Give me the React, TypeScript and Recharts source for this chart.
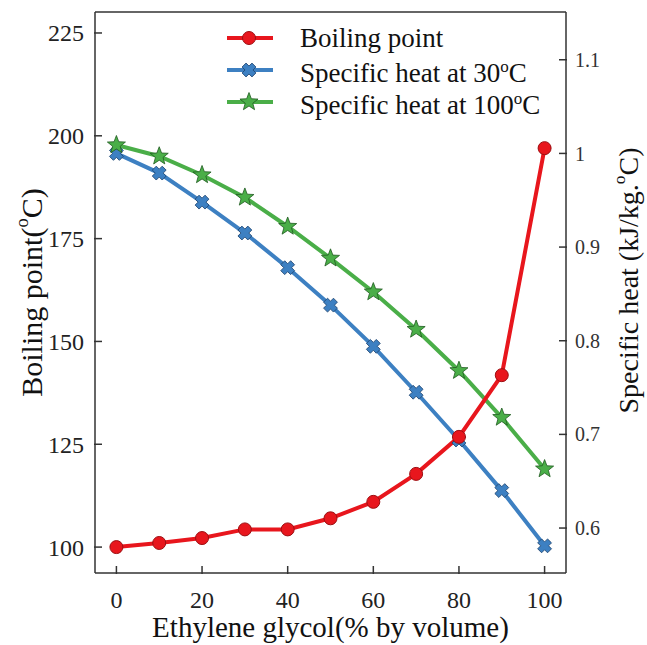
import React from 'react';
import {
  ComposedChart,
  Line,
  XAxis,
  YAxis,
  Legend,
  Label,
} from 'recharts';

// ethylene glycol share (% by volume)
const composition = [0, 10, 20, 30, 40, 50, 60, 70, 80, 90, 100];
// boiling point (°C), left axis
const boilingPoint = [100, 101, 102.2, 104.3, 104.3, 107, 111, 117.8, 126.8, 141.8, 197];
// specific heat (kJ/kg.°C), right axis
const heatAt30 = [1.0, 0.979, 0.948, 0.915, 0.878, 0.838, 0.794, 0.745, 0.694, 0.64, 0.581];
const heatAt100 = [1.009, 0.997, 0.977, 0.953, 0.922, 0.888, 0.852, 0.812, 0.768, 0.718, 0.663];

const xTicks = [0, 20, 40, 60, 80, 100];
const xMinorTicks = [0, 5, 10, 15, 20, 25, 30, 35, 40, 45, 50, 55, 60, 65, 70, 75, 80, 85, 90, 95, 100];
const leftTicks = [100, 125, 150, 175, 200, 225];
const leftMinorTicks = [95, 100, 105, 110, 115, 120, 125, 130, 135, 140, 145, 150, 155, 160, 165, 170, 175, 180, 185, 190, 195, 200, 205, 210, 215, 220, 225, 230];
const rightTicks = [0.6, 0.7, 0.8, 0.9, 1, 1.1];
const rightMinorTicks = [0.6, 0.65, 0.7, 0.75, 0.8, 0.85, 0.9, 0.95, 1, 1.05, 1.1];

const data = composition.map((x, i) => ({
  x,
  boiling: boilingPoint[i],
  heat30: heatAt30[i],
  heat100: heatAt100[i],
}));

const FONT = '"Liberation Serif", "Times New Roman", serif';
const AXIS = '#333';
const RED = '#e8161d';
const BLUE = '#3d80c2';
const GREEN = '#4aae48';
const X_DOMAIN = [-5, 105];
const LEFT_DOMAIN = [93.7, 230.1];
const RIGHT_DOMAIN = [0.552, 1.151];

// 標記點
const CircleMark = ({ cx, cy }: { cx: number; cy: number }) => (
  <circle cx={cx} cy={cy} r={6.5} fill={RED} stroke="#9c0f12" strokeWidth={1} />
);

const CrossMark = ({ cx, cy }: { cx: number; cy: number }) => {
  const a = 7;
  const h = 2.8;
  const pts = [
    [h, h], [a, h], [a, -h], [h, -h], [h, -a], [-h, -a],
    [-h, -h], [-a, -h], [-a, h], [-h, h], [-h, a], [h, a],
  ];
  return (
    <g transform={`translate(${cx},${cy}) rotate(45)`}>
      <polygon
        points={pts.map((p) => p.join(',')).join(' ')}
        fill={BLUE}
        stroke="#1f4470"
        strokeWidth={0.8}
      />
    </g>
  );
};

const StarMark = ({ cx, cy }: { cx: number; cy: number }) => {
  const pts: string[] = [];
  for (let k = 0; k < 10; k++) {
    const r = k % 2 === 0 ? 9.5 : 4;
    const ang = -Math.PI / 2 + (k * Math.PI) / 5;
    pts.push(`${cx + r * Math.cos(ang)},${cy + r * Math.sin(ang)}`);
  }
  return <polygon points={pts.join(' ')} fill={GREEN} stroke="#1f5a1f" strokeWidth={0.8} />;
};

const markers: Record<string, React.FC<{ cx: number; cy: number }>> = {
  boiling: CircleMark,
  heat30: CrossMark,
  heat100: StarMark,
};

const labels: Record<string, React.ReactNode> = {
  boiling: 'Boiling point',
  heat30: (
    <>
      Specific heat at 30<sup style={{ fontSize: 17 }}>o</sup>C
    </>
  ),
  heat100: (
    <>
      Specific heat at 100<sup style={{ fontSize: 17 }}>o</sup>C
    </>
  ),
};

const renderLegend = (props: any) => {
  const { payload = [] } = props;
  const order = ['boiling', 'heat30', 'heat100'];
  const items = [...payload].sort(
    (a: any, b: any) => order.indexOf(a.dataKey) - order.indexOf(b.dataKey),
  );
  return (
    <div style={{ fontFamily: FONT, fontSize: 27, color: '#111', whiteSpace: 'nowrap' }}>
      {items.map((item: any) => {
        const Mark = markers[item.dataKey];
        return (
          <div
            key={item.dataKey}
            style={{ display: 'flex', alignItems: 'center', height: 32 }}
          >
            <svg width={46} height={24} style={{ overflow: 'visible' }}>
              <line x1={0} y1={12} x2={46} y2={12} stroke={item.color} strokeWidth={4} />
              <Mark cx={22} cy={12} />
            </svg>
            <span style={{ marginLeft: 27, lineHeight: '32px' }}>{labels[item.dataKey]}</span>
          </div>
        );
      })}
    </div>
  );
};

const sup = (pre: string, post: string, size: number) => (
  <>
    <tspan>{pre}</tspan>
    <tspan dy={-size * 0.38} fontSize={size * 0.62}>o</tspan>
    <tspan dy={size * 0.38}>{post}</tspan>
  </>
);

const tickStyle = { fontFamily: FONT, fontSize: 24, fill: '#222' };

const App: React.FC = () => {
  return (
    <div>
      <style>{'body{margin:0}'}</style>
      <ComposedChart
        width={647}
        height={645}
        data={data}
        margin={{ top: 10, right: 0, bottom: 0, left: 0 }}
      >
        {/* 主刻度 (outer, labelled) first, then 1px minor axes that draw the frame */}
        <XAxis
          xAxisId="zBottom"
          dataKey="x"
          type="number"
          domain={X_DOMAIN}
          ticks={xTicks}
          tickSize={-8}
          tickMargin={25}
          height={71}
          axisLine={false}
          stroke={AXIS}
          tickLine={{ strokeWidth: 1.5 }}
          tick={tickStyle}
        >
          <Label
            content={({ viewBox }: any) => (
              <text
                x={viewBox.x + viewBox.width / 2}
                y={637}
                textAnchor="middle"
                fontFamily={FONT}
                fontSize={29}
                fill="#111"
              >
                Ethylene glycol(% by volume)
              </text>
            )}
          />
        </XAxis>
        <XAxis
          xAxisId="aBottom"
          dataKey="x"
          type="number"
          domain={X_DOMAIN}
          ticks={xMinorTicks}
          tick={false}
          tickSize={-4}
          height={1}
          stroke={AXIS}
          strokeWidth={1.5}
        />
        <XAxis
          xAxisId="zTop"
          dataKey="x"
          type="number"
          orientation="top"
          domain={X_DOMAIN}
          ticks={xTicks}
          tick={false}
          tickSize={-8}
          height={1}
          axisLine={false}
          stroke={AXIS}
          tickLine={{ strokeWidth: 1.5 }}
        />
        <XAxis
          xAxisId="aTop"
          dataKey="x"
          type="number"
          orientation="top"
          domain={X_DOMAIN}
          ticks={xMinorTicks}
          tick={false}
          tickSize={-4}
          height={1}
          stroke={AXIS}
          strokeWidth={1.5}
        />
        <YAxis
          yAxisId="zLeft"
          type="number"
          domain={LEFT_DOMAIN}
          ticks={leftTicks}
          tickSize={-8}
          tickMargin={18}
          width={94}
          axisLine={false}
          stroke={AXIS}
          tickLine={{ strokeWidth: 1.5 }}
          tick={tickStyle}
        >
          <Label
            content={({ viewBox }: any) => {
              const cy = viewBox.y + viewBox.height / 2;
              return (
                <text
                  x={35}
                  y={cy}
                  transform={`rotate(-90 35 ${cy})`}
                  textAnchor="middle"
                  dominantBaseline="middle"
                  fontFamily={FONT}
                  fontSize={30}
                  fill="#111"
                >
                  {sup('Boiling point(', 'C)', 30)}
                </text>
              );
            }}
          />
        </YAxis>
        <YAxis
          yAxisId="aLeft"
          type="number"
          domain={LEFT_DOMAIN}
          ticks={leftMinorTicks}
          tick={false}
          tickSize={-4}
          width={1}
          stroke={AXIS}
          strokeWidth={1.5}
        />
        <YAxis
          yAxisId="zRight"
          orientation="right"
          type="number"
          domain={RIGHT_DOMAIN}
          ticks={rightTicks}
          tickSize={-8}
          tickMargin={16}
          width={80}
          axisLine={false}
          stroke={AXIS}
          tickLine={{ strokeWidth: 1.5 }}
          tick={{ fontFamily: FONT, fontSize: 20, fill: '#333' }}
        >
          <Label
            content={({ viewBox }: any) => {
              const cy = viewBox.y + viewBox.height / 2 - 12;
              return (
                <text
                  x={632}
                  y={cy}
                  transform={`rotate(-90 632 ${cy})`}
                  textAnchor="middle"
                  dominantBaseline="middle"
                  fontFamily={FONT}
                  fontSize={28}
                  fill="#111"
                >
                  {sup('Specific heat (kJ/kg.', 'C)', 28)}
                </text>
              );
            }}
          />
        </YAxis>
        <YAxis
          yAxisId="aRight"
          orientation="right"
          type="number"
          domain={RIGHT_DOMAIN}
          ticks={rightMinorTicks}
          tick={false}
          tickSize={-4}
          width={1}
          stroke={AXIS}
          strokeWidth={1.5}
        />

        <Legend
          layout="vertical"
          align="center"
          verticalAlign="middle"
          content={renderLegend}
          wrapperStyle={{ top: 22, left: 227, width: 'auto' }}
        />

        <Line
          xAxisId="zBottom"
          yAxisId="zRight"
          dataKey="heat30"
          name="Specific heat at 30°C"
          stroke={BLUE}
          strokeWidth={4}
          isAnimationActive={false}
          dot={(p: any) => <CrossMark key={`c${p.index}`} cx={p.cx} cy={p.cy} />}
          activeDot={false}
        />
        <Line
          xAxisId="zBottom"
          yAxisId="zRight"
          dataKey="heat100"
          name="Specific heat at 100°C"
          stroke={GREEN}
          strokeWidth={4}
          isAnimationActive={false}
          dot={(p: any) => <StarMark key={`s${p.index}`} cx={p.cx} cy={p.cy} />}
          activeDot={false}
        />
        <Line
          xAxisId="zBottom"
          yAxisId="zLeft"
          dataKey="boiling"
          name="Boiling point"
          stroke={RED}
          strokeWidth={4}
          isAnimationActive={false}
          dot={(p: any) => <CircleMark key={`b${p.index}`} cx={p.cx} cy={p.cy} />}
          activeDot={false}
        />
      </ComposedChart>
    </div>
  );
};

export default App;
